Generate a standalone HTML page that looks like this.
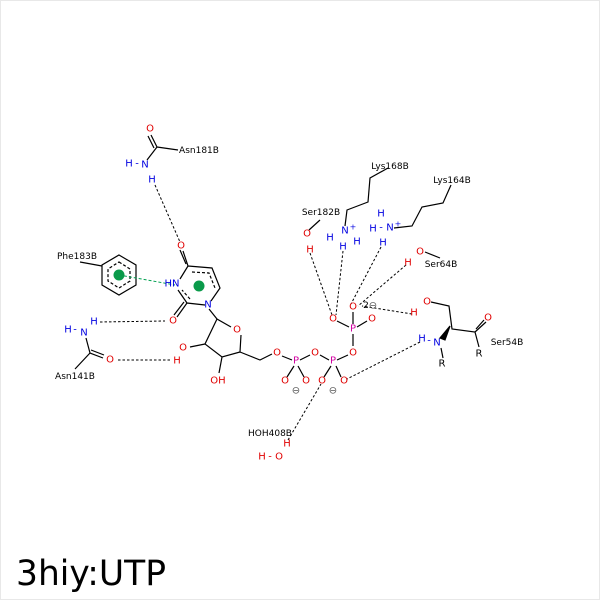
<!DOCTYPE html>
<html><head><style>body{margin:0;background:#fff}svg{display:block}text{font-family:"DejaVu Sans","Liberation Sans",sans-serif}</style></head><body>
<svg width="600" height="600" viewBox="0 0 600 600" xmlns="http://www.w3.org/2000/svg">
<rect x="0.5" y="0.5" width="599" height="599" fill="#fff" stroke="#e8e8e8"/>
<g stroke="#000" stroke-width="1.2" fill="none">
<path d="M157,147 L178,150 M157,147 L147,160 M157,147 L151,135 M154,148 L148,136"/>
<path d="M80,262 L102,266"/>
<polygon points="119,255 136,265 136,285 119,295 102,285 102,265"/>
<polygon points="119,262 130,269 130,281 119,288 108,281 108,269" stroke-dasharray="3,2"/>
<path d="M188,266 L212,268 L220,288 L211,301 M205,305 L187,303 L178,290 M180,279 L188,266 M188,266 L183,251 M186,264 L180,250 M187,303 L177,317 M184,302 L174,315"/>
<path d="M192,272 L209,273 L215,288 M190,299 L182,290" stroke-dasharray="3,2"/>
<path d="M209,309 L217,319 L231,327 M241,335 L240,352 L222,357 L205,344 L217,319 M240,352 L260,360 L272,354 M222,357 L219,373 M205,344 L190,347"/>
<path d="M86,338 L90,353 L103,358 M91,350 L104,355 M90,353 L75,369"/>
<path d="M282,356 L292,360 M300,360 L310,355 M320,355 L329,360 M337,360 L348,355 M353,334 L353,346 M353,324 L353,312 M349,327 L337,321 M357,327 L367,321 M294,366 L287,377 M298,366 L304,377 M331,366 L324,377 M336,366 L341,377"/>
<path d="M309,230 L320,220 M345,226 L347,210 L368,202 L370,178 L388,168 M394,228 L412,226 L422,207 L443,203 L451,185 M425,252 L440,258 M431,302 L449,306 L452,329 L475,332 L479,347 M475,332 L486,322 M476,329 L484,320 M441,348 L443,358"/>
<path d="M450,326 L440,338 L445,340 Z" fill="#000"/>
</g>
<g stroke="#000" stroke-width="1" stroke-dasharray="2.5,2" fill="none">
<path d="M155,185 L180,242 M100,322 L165,321 M118,360 L172,360 M310,253 L332,315 M343,251 L336,315 M381,247 L351,304 M406,265 L358,306 M412,314 L362,306 M420,342 L347,379 M288,440 L321,384"/>
</g>
<path d="M119,275 L175,285" stroke="#00a050" stroke-width="1" stroke-dasharray="3,2"/>
<circle cx="119" cy="275" r="5.5" fill="#0a9a4a"/>
<circle cx="199" cy="286" r="5.5" fill="#0a9a4a"/>
<g font-size="10" text-anchor="middle" dominant-baseline="central">
<g fill="#e00000">
<text x="150" y="129">O</text><text x="181" y="246">O</text><text x="173" y="321">O</text><text x="110" y="360">O</text>
<text x="237" y="330">O</text><text x="183" y="348">O</text><text x="177" y="361">H</text><text x="218" y="381">OH</text>
<text x="277" y="353">O</text><text x="315" y="353">O</text><text x="353" y="353">O</text><text x="353" y="307">O</text>
<text x="333" y="319">O</text><text x="372" y="319">O</text><text x="285" y="381">O</text><text x="306" y="381">O</text>
<text x="322" y="381">O</text><text x="344" y="381">O</text>
<text x="307" y="234">O</text><text x="310" y="250">H</text><text x="420" y="252">O</text><text x="408" y="263">H</text>
<text x="427" y="302">O</text><text x="414" y="313">H</text><text x="488" y="318">O</text>
<text x="287" y="444">H</text><text x="262" y="457">H</text><text x="279" y="457">O</text>
</g>
<text x="270" y="457" fill="#e00000">-</text>
<g fill="#d000a0"><text x="296" y="361">P</text><text x="333" y="361">P</text><text x="353" y="329">P</text></g>
<g fill="#0000e0">
<text x="129" y="164">H</text><text x="137" y="164">-</text><text x="145" y="165">N</text><text x="152" y="180">H</text>
<text x="172" y="284">HN</text><text x="208" y="305">N</text>
<text x="94" y="322">H</text><text x="68" y="330">H</text><text x="75" y="330">-</text><text x="84" y="333">N</text>
<text x="345" y="231">N</text><text x="353" y="227" font-size="8">+</text><text x="330" y="238">H</text><text x="357" y="242">H</text><text x="343" y="247">H</text>
<text x="390" y="228">N</text><text x="398" y="224" font-size="8">+</text><text x="381" y="214">H</text><text x="373" y="229">H</text><text x="381" y="228">-</text><text x="383" y="243">H</text>
<text x="437" y="343">N</text><text x="422" y="339">H</text><text x="429" y="341">-</text>
</g>
<g fill="#000" font-size="9">
<text x="199" y="151">Asn181B</text><text x="77" y="257">Phe183B</text><text x="75" y="377">Asn141B</text>
<text x="321" y="213">Ser182B</text><text x="390" y="167">Lys168B</text><text x="452" y="181">Lys164B</text>
<text x="441" y="265">Ser64B</text><text x="507" y="343">Ser54B</text><text x="270" y="434">HOH408B</text>
<text x="479" y="354" font-size="10">R</text><text x="442" y="364" font-size="10">R</text>
<text x="366" y="306">2</text>
</g>
<g fill="#555" font-size="10"><text x="373" y="306">⊖</text><text x="296" y="391">⊖</text><text x="333" y="391">⊖</text></g>
</g>
<text x="16" y="585" font-size="35" fill="#000" textLength="150" lengthAdjust="spacingAndGlyphs">3hiy:UTP</text>
</svg>
</body></html>
